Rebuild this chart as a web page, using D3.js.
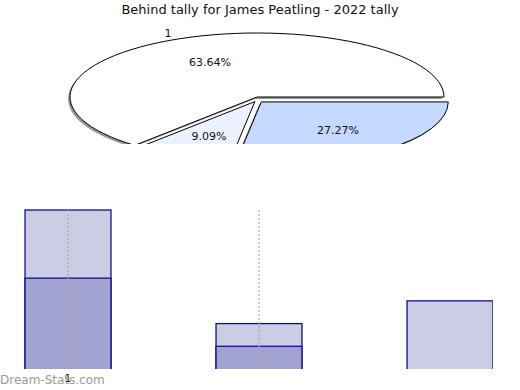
<!DOCTYPE html>
<html>
<head>
<meta charset="utf-8">
<script src="https://cdn.jsdelivr.net/npm/d3@7"></script>
<style>
  body { margin: 0; background: #fff; }
  svg { font-family: "DejaVu Sans", sans-serif; display: block; }
</style>
</head>
<body>
<div id="chart"></div>
<script>
// pie data
const sliceNames = ["1", "2", "3"];
const sliceShares = [63.64, 9.09, 27.27];
const sliceLabels = ["63.64%", "9.09%", "27.27%"];
const sliceColors = ["#ffffff", "#ebf1ff", "#c5d9ff"];

// bar data (light = total, dark = part of it)
const barCategories = ["1", "2", "3"];
const lightValues = [7, 2, 3];
const darkValues = [4, 1, 0];
const gridCategories = ["1", "2"];
const tickLabels = ["1"];

const W = 520, H = 390;

const svg = d3.select("#chart").append("svg")
    .attr("width", W)
    .attr("height", H);

svg.append("text")
    .attr("x", 260)
    .attr("y", 14)
    .attr("text-anchor", "middle")
    .attr("font-size", 13)
    .attr("fill", "#111")
    .text("Behind tally for James Peatling - 2022 tally");

// ---- pie (flattened, cut at the bottom) ----
const cx = 257, cy = 97, rx = 187, ry = 64;

svg.append("clipPath").attr("id", "pieClip")
    .append("rect").attr("x", 0).attr("y", 20).attr("width", W).attr("height", 124);

// counter-clockwise from 3 o'clock
const pie = d3.pie().sort(null)
    .startAngle(Math.PI / 2)
    .endAngle(Math.PI / 2 - 2 * Math.PI);
const arcs = pie(sliceShares);
const arc = d3.arc().innerRadius(0).outerRadius(rx);

const explode = [0, 5, 6.5];

const pieG = svg.append("g").attr("clip-path", "url(#pieClip)");

arcs.forEach((d, i) => {
    const mid = (d.startAngle + d.endAngle) / 2;
    const ox = Math.sin(mid) * explode[i];
    const oy = -Math.cos(mid) * explode[i];
    const g = pieG.append("g");
    // shadow
    g.append("path")
        .attr("transform", `translate(${cx + ox - 2},${cy + oy + 2}) scale(1,${ry / rx})`)
        .attr("d", arc(d))
        .attr("fill", "#999");
    g.append("path")
        .attr("transform", `translate(${cx + ox},${cy + oy}) scale(1,${ry / rx})`)
        .attr("d", arc(d))
        .attr("fill", sliceColors[i])
        .attr("stroke", "#000")
        .attr("stroke-width", 1)
        .attr("vector-effect", "non-scaling-stroke");
});

const labelPos = [[210, 66], [209, 140], [338, 134]];
svg.selectAll(".pct").data(sliceLabels).enter().append("text")
    .attr("class", "pct")
    .attr("x", (d, i) => labelPos[i][0])
    .attr("y", (d, i) => labelPos[i][1])
    .attr("text-anchor", "middle")
    .attr("font-size", 11)
    .attr("fill", "#111")
    .text(d => d);

svg.append("text")
    .attr("x", 168)
    .attr("y", 37)
    .attr("text-anchor", "middle")
    .attr("font-size", 11)
    .attr("fill", "#111")
    .text(sliceNames[0]);

// ---- bars ----
const x = d3.scaleBand().domain(barCategories)
    .range([-27.5, 545.5]).paddingInner(0.55).paddingOuter(0.275);
const y = d3.scaleLinear().domain([0, 7]).range([369, 210]);

svg.append("clipPath").attr("id", "barClip")
    .append("rect").attr("x", 0).attr("y", 200).attr("width", 493).attr("height", 169);

const barG = svg.append("g").attr("clip-path", "url(#barClip)");

barG.selectAll(".light").data(lightValues).enter().append("rect")
    .attr("class", "light")
    .attr("x", (d, i) => x(barCategories[i]))
    .attr("y", d => y(d))
    .attr("width", x.bandwidth())
    .attr("height", d => y(0) - y(d) + 3)
    .attr("fill", "#cccce4")
    .attr("stroke", "#10108c")
    .attr("stroke-width", 1.3);

barG.selectAll(".dark").data(darkValues.filter(v => v > 0)).enter().append("rect")
    .attr("class", "dark")
    .attr("x", (d, i) => x(barCategories[i]))
    .attr("y", d => y(d))
    .attr("width", x.bandwidth())
    .attr("height", d => y(0) - y(d) + 3)
    .attr("fill", "#a2a2cf")
    .attr("stroke", "#10108c")
    .attr("stroke-width", 1.3);

barG.selectAll(".grid").data(gridCategories).enter().append("line")
    .attr("class", "grid")
    .attr("x1", d => x(d) + x.bandwidth() / 2)
    .attr("x2", d => x(d) + x.bandwidth() / 2)
    .attr("y1", y(7))
    .attr("y2", y(0))
    .attr("stroke", "#aaa")
    .attr("stroke-width", 1.2)
    .attr("stroke-dasharray", "2,2");

svg.selectAll(".tick-label").data(tickLabels).enter().append("text")
    .attr("class", "tick-label")
    .attr("x", d => x(d) + x.bandwidth() / 2)
    .attr("y", 382)
    .attr("text-anchor", "middle")
    .attr("font-size", 10)
    .attr("fill", "#111")
    .text(d => d);

svg.append("text")
    .attr("x", 0)
    .attr("y", 384)
    .attr("font-size", 12)
    .attr("fill", "#999")
    .text("Dream-Stats.com");
</script>
</body>
</html>
